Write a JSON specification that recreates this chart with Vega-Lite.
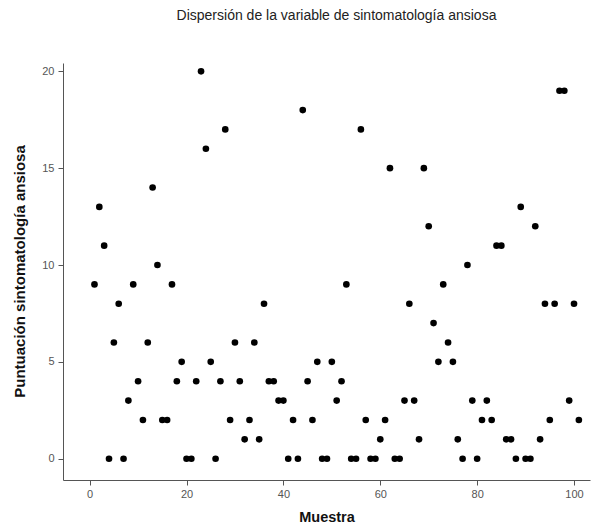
{
  "$schema": "https://vega.github.io/schema/vega-lite/v6.json",
  "width": 527,
  "height": 417,
  "autosize": "none",
  "padding": {"left": 63, "top": 63, "right": 1, "bottom": 45},
  "background": "white",
  "title": {
    "text": "Dispersión de la variable de sintomatología ansiosa",
    "anchor": "middle",
    "frame": "group",
    "font": "Liberation Sans",
    "fontSize": 14,
    "fontWeight": "normal",
    "color": "#222222",
    "baseline": "alphabetic",
    "offset": 29,
    "dx": 10
  },
  "config": {
    "view": {"stroke": null},
    "axis": {
      "grid": false,
      "domainColor": "#555555",
      "domainWidth": 1,
      "tickColor": "#555555",
      "tickSize": 5,
      "labelFont": "Liberation Sans",
      "labelFontSize": 11,
      "labelColor": "#555555",
      "titleFont": "Liberation Sans",
      "titleFontSize": 14,
      "titleFontWeight": "bold",
      "titleColor": "#111111"
    }
  },
  "data": {
    "values": [
      {"muestra": 1, "puntuacion": 9}, {"muestra": 2, "puntuacion": 13}, {"muestra": 3, "puntuacion": 11},
      {"muestra": 4, "puntuacion": 0}, {"muestra": 5, "puntuacion": 6}, {"muestra": 6, "puntuacion": 8},
      {"muestra": 7, "puntuacion": 0}, {"muestra": 8, "puntuacion": 3}, {"muestra": 9, "puntuacion": 9},
      {"muestra": 10, "puntuacion": 4}, {"muestra": 11, "puntuacion": 2}, {"muestra": 12, "puntuacion": 6},
      {"muestra": 13, "puntuacion": 14}, {"muestra": 14, "puntuacion": 10}, {"muestra": 15, "puntuacion": 2},
      {"muestra": 16, "puntuacion": 2}, {"muestra": 17, "puntuacion": 9}, {"muestra": 18, "puntuacion": 4},
      {"muestra": 19, "puntuacion": 5}, {"muestra": 20, "puntuacion": 0}, {"muestra": 21, "puntuacion": 0},
      {"muestra": 22, "puntuacion": 4}, {"muestra": 23, "puntuacion": 20}, {"muestra": 24, "puntuacion": 16},
      {"muestra": 25, "puntuacion": 5}, {"muestra": 26, "puntuacion": 0}, {"muestra": 27, "puntuacion": 4},
      {"muestra": 28, "puntuacion": 17}, {"muestra": 29, "puntuacion": 2}, {"muestra": 30, "puntuacion": 6},
      {"muestra": 31, "puntuacion": 4}, {"muestra": 32, "puntuacion": 1}, {"muestra": 33, "puntuacion": 2},
      {"muestra": 34, "puntuacion": 6}, {"muestra": 35, "puntuacion": 1}, {"muestra": 36, "puntuacion": 8},
      {"muestra": 37, "puntuacion": 4}, {"muestra": 38, "puntuacion": 4}, {"muestra": 39, "puntuacion": 3},
      {"muestra": 40, "puntuacion": 3}, {"muestra": 41, "puntuacion": 0}, {"muestra": 42, "puntuacion": 2},
      {"muestra": 43, "puntuacion": 0}, {"muestra": 44, "puntuacion": 18}, {"muestra": 45, "puntuacion": 4},
      {"muestra": 46, "puntuacion": 2}, {"muestra": 47, "puntuacion": 5}, {"muestra": 48, "puntuacion": 0},
      {"muestra": 49, "puntuacion": 0}, {"muestra": 50, "puntuacion": 5}, {"muestra": 51, "puntuacion": 3},
      {"muestra": 52, "puntuacion": 4}, {"muestra": 53, "puntuacion": 9}, {"muestra": 54, "puntuacion": 0},
      {"muestra": 55, "puntuacion": 0}, {"muestra": 56, "puntuacion": 17}, {"muestra": 57, "puntuacion": 2},
      {"muestra": 58, "puntuacion": 0}, {"muestra": 59, "puntuacion": 0}, {"muestra": 60, "puntuacion": 1},
      {"muestra": 61, "puntuacion": 2}, {"muestra": 62, "puntuacion": 15}, {"muestra": 63, "puntuacion": 0},
      {"muestra": 64, "puntuacion": 0}, {"muestra": 65, "puntuacion": 3}, {"muestra": 66, "puntuacion": 8},
      {"muestra": 67, "puntuacion": 3}, {"muestra": 68, "puntuacion": 1}, {"muestra": 69, "puntuacion": 15},
      {"muestra": 70, "puntuacion": 12}, {"muestra": 71, "puntuacion": 7}, {"muestra": 72, "puntuacion": 5},
      {"muestra": 73, "puntuacion": 9}, {"muestra": 74, "puntuacion": 6}, {"muestra": 75, "puntuacion": 5},
      {"muestra": 76, "puntuacion": 1}, {"muestra": 77, "puntuacion": 0}, {"muestra": 78, "puntuacion": 10},
      {"muestra": 79, "puntuacion": 3}, {"muestra": 80, "puntuacion": 0}, {"muestra": 81, "puntuacion": 2},
      {"muestra": 82, "puntuacion": 3}, {"muestra": 83, "puntuacion": 2}, {"muestra": 84, "puntuacion": 11},
      {"muestra": 85, "puntuacion": 11}, {"muestra": 86, "puntuacion": 1}, {"muestra": 87, "puntuacion": 1},
      {"muestra": 88, "puntuacion": 0}, {"muestra": 89, "puntuacion": 13}, {"muestra": 90, "puntuacion": 0},
      {"muestra": 91, "puntuacion": 0}, {"muestra": 92, "puntuacion": 12}, {"muestra": 93, "puntuacion": 1},
      {"muestra": 94, "puntuacion": 8}, {"muestra": 95, "puntuacion": 2}, {"muestra": 96, "puntuacion": 8},
      {"muestra": 97, "puntuacion": 19}, {"muestra": 98, "puntuacion": 19}, {"muestra": 99, "puntuacion": 3},
      {"muestra": 100, "puntuacion": 8}, {"muestra": 101, "puntuacion": 2}
    ]
  },
  "mark": {"type": "circle", "size": 44, "color": "#000000", "opacity": 1},
  "encoding": {
    "x": {
      "field": "muestra",
      "type": "quantitative",
      "scale": {"domain": [-5.5, 103.3], "nice": false, "zero": false},
      "axis": {
        "title": "Muestra",
        "values": [0, 20, 40, 60, 80, 100],
        "labelPadding": 3,
        "titleFontSize": 14.5,
        "titleBaseline": "middle",
        "titleY": 37
      }
    },
    "y": {
      "field": "puntuacion",
      "type": "quantitative",
      "scale": {"domain": [-1.1, 20.43], "nice": false, "zero": false},
      "axis": {
        "title": "Puntuación sintomatología ansiosa",
        "values": [0, 5, 10, 15, 20],
        "labelPadding": 4,
        "titleFontSize": 15,
        "titleBaseline": "middle",
        "titleAlign": "center",
        "titleAngle": -90,
        "titleX": -44,
        "titleY": 208
      }
    }
  }
}
